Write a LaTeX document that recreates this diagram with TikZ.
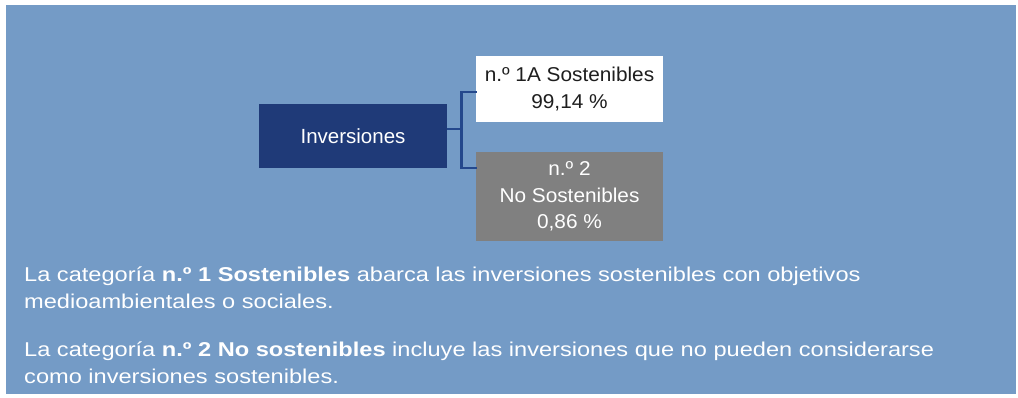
\documentclass[tikz,border=0pt]{standalone}
\usepackage{fontspec}
\setmainfont{Liberation Sans}
\newfontfamily\boxfont{Liberation Sans}[FakeStretch=1.04]
\newfontfamily\parafont{Liberation Sans}[FakeStretch=1.18]
\usetikzlibrary{positioning}
\definecolor{panelblue}{RGB}{116,155,198}
\definecolor{navy}{RGB}{31,58,120}
\definecolor{forkblue}{RGB}{36,72,140}
\definecolor{boxgrey}{RGB}{128,128,128}
\definecolor{inkdark}{RGB}{30,30,30}

\begin{document}
\begin{tikzpicture}[x=1pt,y=1pt,
    box/.style={rectangle,inner sep=0pt,align=center,font=\boxfont\fontsize{20pt}{26.6pt}\selectfont},
    bracket/.style={draw=forkblue,line width=2.6pt},
    para/.style={anchor=base west,inner sep=0pt,align=left,text=white,font=\parafont\fontsize{20pt}{27pt}\selectfont}]

% fix the page and paint the panel
\useasboundingbox (0,0) rectangle (1018,397);
\fill[panelblue] (6,3) rectangle (1016,392);

% draw the boxes
\node[box,fill=navy,text=white,minimum width=188pt,minimum height=64pt,font=\fontsize{20.5pt}{26pt}\selectfont] (inv) at (353,261) {Inversiones};
\node[box,fill=white,text=inkdark,minimum width=187pt,minimum height=66pt] (cat1) at (569.5,308) {n.º 1A Sostenibles\\99,14 \%};
\node[box,fill=boxgrey,text=white,minimum width=187pt,minimum height=89pt] (cat2) at (569.5,200.5) {n.º 2\\No Sostenibles\\0,86 \%};

% draw the fork between the boxes
\coordinate (fork) at ([xshift=14.5pt,yshift=7pt]inv.east);
\draw[bracket] (inv.east |- fork) -- (fork);
\draw[bracket,line cap=rect] ([yshift=-3pt]cat1.west) -| (fork) |- (cat2.west |- inv.south);

% place the explanation text (base = last line)
\node[para] (txt1) at (24,89) {La categoría \textbf{n.º 1 Sostenibles} abarca las inversiones sostenibles con objetivos\\medioambientales o sociales.};
\node[para] (txt2) at (24,14) {La categoría \textbf{n.º 2 No sostenibles} incluye las inversiones que no pueden considerarse\\como inversiones sostenibles.};

\end{tikzpicture}
\end{document}
